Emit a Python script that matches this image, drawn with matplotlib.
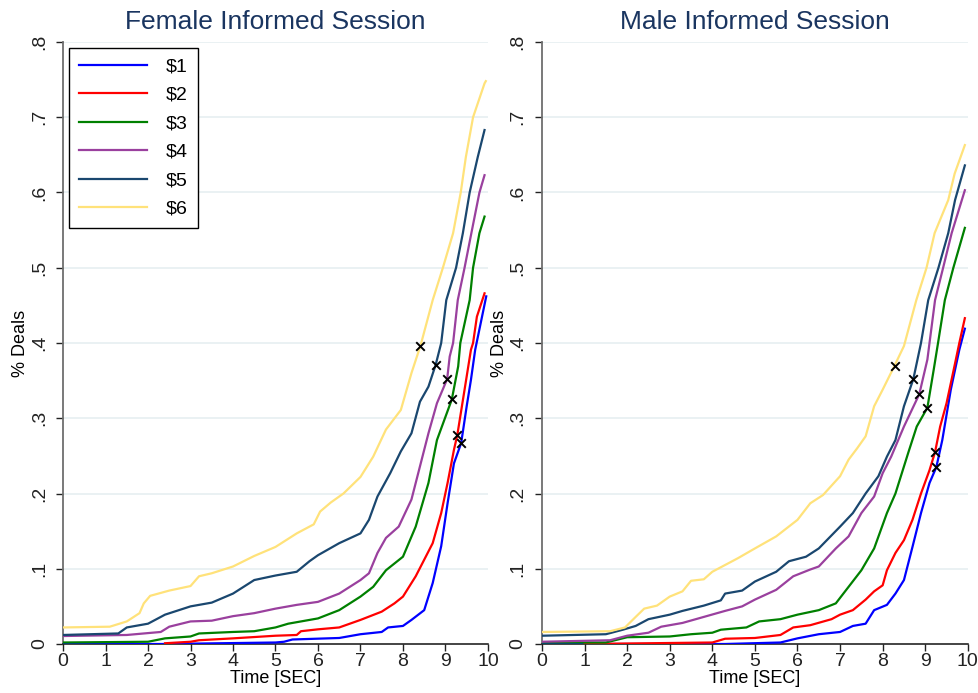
import numpy as np
import matplotlib.pyplot as plt

plt.rcParams['font.family'] = ['Liberation Sans', 'DejaVu Sans']

labels = ['$1', '$2', '$3', '$4', '$5', '$6']
colors = ['#0000ff', '#ff0000', '#008000', '#9a409e', '#1a476f', '#ffe27a']
titles = ['Female Informed Session', 'Male Informed Session']

# cumulative share of deals by time, one (t, share) list per price level
female_t = [
    [0, 2.4, 5.0, 5.2, 5.4, 6.5, 7.0, 7.5, 7.65, 8.0, 8.2, 8.5, 8.7, 8.9, 9.05, 9.2, 9.37, 9.5, 9.6, 9.7, 9.96],
    [2.4, 3.0, 3.2, 4.0, 5.0, 5.5, 5.6, 6.0, 6.5, 7.0, 7.5, 7.8, 8.0, 8.3, 8.5, 8.7, 8.9, 9.05, 9.2, 9.28, 9.45, 9.6, 9.65, 9.74, 9.92],
    [0, 2.0, 2.4, 3.0, 3.2, 4.0, 4.5, 5.0, 5.3, 6.0, 6.5, 7.0, 7.3, 7.6, 8.0, 8.3, 8.6, 8.8, 9.15, 9.3, 9.35, 9.57, 9.65, 9.8, 9.92],
    [0, 1.5, 2.3, 2.5, 3.0, 3.5, 4.0, 4.5, 5.0, 5.5, 6.0, 6.5, 7.0, 7.2, 7.4, 7.6, 7.9, 8.2, 8.4, 8.6, 8.8, 9.04, 9.1, 9.18, 9.29, 9.45, 9.61, 9.8, 9.92],
    [0, 1.3, 1.5, 2.0, 2.4, 3.0, 3.5, 4.0, 4.5, 5.0, 5.5, 5.8, 6.0, 6.5, 7.0, 7.2, 7.4, 7.7, 7.95, 8.2, 8.4, 8.6, 8.77, 8.9, 9.02, 9.25, 9.41, 9.57, 9.76, 9.92],
    [0, 1.1, 1.5, 1.8, 1.9, 2.05, 2.5, 3.0, 3.2, 3.5, 4.0, 4.5, 5.0, 5.5, 5.9, 6.05, 6.3, 6.6, 7.0, 7.3, 7.6, 7.95, 8.2, 8.41, 8.43, 8.7, 8.94, 9.18, 9.36, 9.48, 9.65, 9.92, 9.95],
]
female_y = [
    [0.0, 0.0, 0.002, 0.003, 0.006, 0.008, 0.013, 0.016, 0.022, 0.024, 0.032, 0.045, 0.081, 0.13, 0.187, 0.24, 0.267, 0.316, 0.351, 0.391, 0.462],
    [0.001, 0.003, 0.005, 0.0075, 0.011, 0.012, 0.017, 0.0195, 0.022, 0.032, 0.043, 0.054, 0.063, 0.09, 0.112, 0.134, 0.174, 0.214, 0.258, 0.278, 0.338, 0.391, 0.4, 0.435, 0.466],
    [0.002, 0.003, 0.0075, 0.01, 0.014, 0.016, 0.017, 0.022, 0.027, 0.034, 0.045, 0.063, 0.076, 0.098, 0.116, 0.156, 0.214, 0.271, 0.325, 0.369, 0.4, 0.457, 0.5, 0.546, 0.568],
    [0.0106, 0.012, 0.016, 0.023, 0.03, 0.031, 0.037, 0.041, 0.047, 0.052, 0.056, 0.067, 0.085, 0.094, 0.121, 0.141, 0.156, 0.192, 0.236, 0.28, 0.32, 0.352, 0.382, 0.4, 0.457, 0.5, 0.546, 0.6, 0.623],
    [0.012, 0.014, 0.022, 0.027, 0.039, 0.05, 0.055, 0.067, 0.085, 0.091, 0.096, 0.11, 0.118, 0.134, 0.147, 0.165, 0.196, 0.227, 0.256, 0.28, 0.322, 0.342, 0.371, 0.4, 0.457, 0.5, 0.546, 0.6, 0.647, 0.683],
    [0.022, 0.023, 0.03, 0.041, 0.054, 0.064, 0.071, 0.077, 0.09, 0.094, 0.103, 0.117, 0.129, 0.147, 0.159, 0.176, 0.188, 0.2, 0.222, 0.249, 0.285, 0.311, 0.36, 0.396, 0.4, 0.457, 0.5, 0.546, 0.6, 0.647, 0.7, 0.745, 0.748],
]
female_mark_t = [9.37, 9.28, 9.15, 9.04, 8.77, 8.41]
female_mark_y = [0.267, 0.278, 0.325, 0.352, 0.371, 0.396]

male_t = [
    [0, 4.3, 5.6, 6.0, 6.5, 7.0, 7.3, 7.6, 7.8, 8.1, 8.3, 8.5, 8.7, 8.9, 9.1, 9.26, 9.4, 9.6, 9.8, 9.93],
    [1.0, 4.0, 4.3, 5.0, 5.6, 5.9, 6.3, 6.8, 7.0, 7.3, 7.6, 7.8, 8.0, 8.1, 8.3, 8.5, 8.7, 8.9, 9.1, 9.23, 9.35, 9.5, 9.7, 9.8, 9.93],
    [0, 1.5, 2.0, 3.0, 3.5, 4.0, 4.2, 4.8, 5.1, 5.6, 6.0, 6.5, 6.9, 7.2, 7.5, 7.8, 8.1, 8.3, 8.6, 8.8, 9.05, 9.2, 9.3, 9.46, 9.66, 9.93],
    [0, 1.6, 2.0, 2.5, 2.8, 3.3, 3.8, 4.3, 4.7, 5.0, 5.5, 5.9, 6.3, 6.5, 6.9, 7.2, 7.5, 7.8, 8.0, 8.2, 8.5, 8.86, 9.05, 9.1, 9.23, 9.42, 9.62, 9.93],
    [0, 1.5, 1.9, 2.2, 2.5, 3.0, 3.3, 3.8, 4.2, 4.3, 4.7, 5.0, 5.5, 5.8, 6.2, 6.5, 7.0, 7.3, 7.6, 7.9, 8.1, 8.3, 8.5, 8.72, 8.9, 9.07, 9.31, 9.54, 9.7, 9.93],
    [0, 1.6, 1.95, 2.2, 2.4, 2.7, 3.0, 3.3, 3.5, 3.8, 4.0, 4.3, 4.6, 5.0, 5.5, 6.0, 6.3, 6.6, 7.0, 7.2, 7.4, 7.6, 7.8, 8.0, 8.28, 8.5, 8.79, 9.03, 9.22, 9.54, 9.69, 9.93],
]
male_y = [
    [0.0, 0.0, 0.002, 0.0075, 0.013, 0.016, 0.024, 0.027, 0.045, 0.052, 0.067, 0.085, 0.129, 0.174, 0.214, 0.235, 0.271, 0.338, 0.391, 0.419],
    [0.0, 0.002, 0.007, 0.008, 0.012, 0.022, 0.025, 0.033, 0.039, 0.045, 0.059, 0.07, 0.078, 0.098, 0.121, 0.138, 0.165, 0.2, 0.231, 0.255, 0.289, 0.32, 0.373, 0.4, 0.433],
    [0.002, 0.002, 0.009, 0.01, 0.013, 0.015, 0.019, 0.022, 0.03, 0.033, 0.039, 0.045, 0.054, 0.076, 0.098, 0.127, 0.174, 0.2, 0.254, 0.289, 0.314, 0.365, 0.4, 0.457, 0.5, 0.553],
    [0.003, 0.005, 0.011, 0.015, 0.023, 0.028, 0.036, 0.044, 0.05, 0.059, 0.072, 0.09, 0.099, 0.103, 0.127, 0.143, 0.174, 0.196, 0.227, 0.249, 0.289, 0.332, 0.378, 0.4, 0.457, 0.5, 0.546, 0.603],
    [0.011, 0.013, 0.019, 0.024, 0.033, 0.039, 0.044, 0.051, 0.058, 0.067, 0.071, 0.083, 0.096, 0.11, 0.116, 0.127, 0.156, 0.174, 0.2, 0.223, 0.249, 0.271, 0.316, 0.352, 0.4, 0.457, 0.5, 0.546, 0.59, 0.636],
    [0.016, 0.017, 0.022, 0.036, 0.047, 0.051, 0.063, 0.07, 0.084, 0.086, 0.096, 0.105, 0.114, 0.127, 0.143, 0.165, 0.187, 0.198, 0.223, 0.245, 0.26, 0.276, 0.316, 0.338, 0.37, 0.396, 0.457, 0.5, 0.546, 0.59, 0.625, 0.663],
]
male_mark_t = [9.26, 9.23, 9.05, 8.86, 8.72, 8.28]
male_mark_y = [0.235, 0.255, 0.314, 0.332, 0.352, 0.370]

panels = [
    (female_t, female_y, female_mark_t, female_mark_y),
    (male_t, male_y, male_mark_t, male_mark_y),
]

fig = plt.figure(figsize=(9.79, 6.93), dpi=100)
axes = [fig.add_axes([0.0644, 0.0707, 0.434, 0.8687]),
        fig.add_axes([0.5536, 0.0707, 0.435, 0.8687])]

for ax, (ts, ys, mt, my), title in zip(axes, panels, titles):
    for k in range(6):
        ax.plot(ts[k], ys[k], color=colors[k], lw=1.6, label=labels[k].replace('$', r'\$'),
                zorder=3)
    ax.scatter(mt, my, marker='x', s=38, color='black', linewidths=1.4, zorder=5)

    ax.set_xlim(0, 10)
    ax.set_ylim(0, 0.8)
    ax.set_xticks(range(11))
    yt = np.arange(0, 0.81, 0.1)
    ax.set_yticks(yt)
    ax.set_yticklabels(['0', '.1', '.2', '.3', '.4', '.5', '.6', '.7', '.8'],
                       rotation=90, va='center')
    for g in yt[1:]:
        ax.axhline(g, color='#e8f0f2', lw=1.3, zorder=1)
    ax.tick_params(labelsize=14, length=5, width=1, colors='#222222')
    ax.tick_params(axis='x', pad=1.5)
    ax.tick_params(axis='y', pad=6)
    for s in ['top', 'right']:
        ax.spines[s].set_visible(False)
    ax.spines['left'].set_color('#6e6e6e')
    ax.spines['left'].set_linewidth(1.3)
    ax.spines['bottom'].set_color('#111111')
    ax.spines['bottom'].set_linewidth(1.1)
    ax.set_xlabel('Time [SEC]', fontsize=13, labelpad=0)
    ax.set_ylabel('% Deals', fontsize=13, labelpad=1)
    ax.set_title(title, fontsize=19, color='#1a3560', pad=9)

leg = axes[0].legend(loc='upper left', bbox_to_anchor=(0.014, 0.99), borderaxespad=0,
                     fontsize=14, handlelength=3.5, handletextpad=1.0, labelspacing=0.56,
                     borderpad=0.5, fancybox=False, framealpha=1)
leg.get_frame().set_edgecolor('black')
leg.get_frame().set_linewidth(1.0)

fig.savefig('out.png', dpi=100)
